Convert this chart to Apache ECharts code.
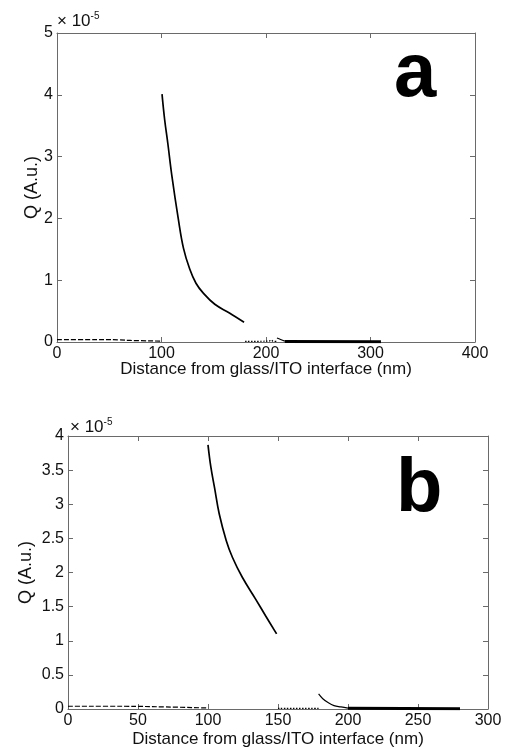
<!DOCTYPE html>
<html>
<head>
<meta charset="utf-8">
<script src="https://cdn.jsdelivr.net/npm/echarts@6/dist/echarts.min.js"></script>
<style>html,body{margin:0;padding:0;background:#fff}#c{width:509px;height:749px}</style>
</head>
<body>
<div id="c"></div>
<script>
// Values of Q are in units of 1e-5 (A.u.); distance in nm
// Panel a
const aDashed = [[0,0.04],[30,0.04],[60,0.035],[70,0.025],[100,0.015]];
const aMain = [[100.5,4.01],[103,3.6],[106,3.22],[110,2.68],[116,2.0],[121,1.52],[127,1.18],[133,0.95],[140,0.79],[151,0.61],[165,0.47],[179,0.32]];
const aDotted = [[180,0.01],[195,0.012],[203,0.015],[205,0.03],[207,0.012],[210,0.01]];
const aTail = [[210.5,0.065],[214,0.04],[218,0.015]];
const aThick = [[218,0.01],[310,0.005]];
// Panel b
const bDashed = [[0,0.04],[40,0.04],[70,0.03],[100,0.015]];
const bMain = [[100,3.87],[102,3.55],[104.7,3.24],[108,2.86],[113,2.47],[117.5,2.22],[124.5,1.93],[134,1.61],[141,1.37],[149,1.1]];
const bDotted = [[150,0.01],[180,0.01]];
const bTail = [[179,0.22],[182,0.15],[186,0.09],[190,0.05],[195,0.03],[200,0.012]];
const bThick = [[200,0.01],[280,0.005]];
const aXTicks = {min:0,max:400,interval:100};
const aYTicks = {min:0,max:5,interval:1};
const bXTicks = {min:0,max:300,interval:50};
const bYTicks = {min:0,max:4,interval:0.5};

const FONT = 'Liberation Sans';
const axisCol = '#6a6a6a';
function xAx(grid, t, pos, show){
  return {type:'value',gridIndex:grid,position:pos,min:t.min,max:t.max,interval:t.interval,
    axisLine:{show:true,onZero:false,lineStyle:{color:axisCol,width:1}},
    axisTick:{show:true,inside:true,length:5,lineStyle:{color:axisCol}},
    axisLabel:{show:show,color:'#111',fontFamily:FONT,fontSize:16,margin:4},
    splitLine:{show:false},
    name:show?'Distance from glass/ITO interface (nm)':'',nameLocation:'middle',nameGap:grid===0?19:22,
    nameMoveOverlap:false,
    nameTextStyle:{color:'#111',fontFamily:FONT,fontSize:17}};
}
function yAx(grid, t, pos, show){
  return {type:'value',gridIndex:grid,position:pos,min:t.min,max:t.max,interval:t.interval,
    axisLine:{show:true,onZero:false,lineStyle:{color:axisCol,width:1}},
    axisTick:{show:true,inside:true,length:5,lineStyle:{color:axisCol}},
    axisLabel:{show:show,color:'#111',fontFamily:FONT,fontSize:16,margin:4},
    splitLine:{show:false},
    name:show?'Q (A.u.)':'',nameLocation:'middle',nameGap:grid===0?16:33,
    nameMoveOverlap:false,
    nameTextStyle:{color:'#111',fontFamily:FONT,fontSize:18}};
}
function ser(data, xi, yi, type, width){
  return {type:'line',xAxisIndex:xi,yAxisIndex:yi,data:data,showSymbol:false,smooth:0.4,
    lineStyle:{color:'#000',width:width,type:type},silent:true,animation:false};
}
const sup = {a:{fontFamily:FONT,fontSize:17,fill:'#111'},s:{fontFamily:FONT,fontSize:10,fill:'#111',verticalAlign:'top',padding:[0,0,10,0]}};
const chart = echarts.init(document.getElementById('c'),null,{renderer:'canvas'});
chart.setOption({
  animation:false,
  grid:[{left:57,top:33,width:418,height:309},{left:68,top:436,width:420,height:275}],
  xAxis:[xAx(0,aXTicks,'bottom',true),xAx(0,aXTicks,'top',false),xAx(1,bXTicks,'bottom',true),xAx(1,bXTicks,'top',false)],
  yAxis:[yAx(0,aYTicks,'left',true),yAx(0,aYTicks,'right',false),yAx(1,bYTicks,'left',true),yAx(1,bYTicks,'right',false)],
  series:[
    ser(aDashed,0,0,[5,2],1.2), ser(aMain,0,0,'solid',1.7), ser(aDotted,0,0,[1.5,1.5],1.2), ser(aTail,0,0,'solid',1.2), ser(aThick,0,0,'solid',3),
    ser(bDashed,2,2,[5,2],1.2), ser(bMain,2,2,'solid',1.7), ser(bDotted,2,2,[1.5,1.5],1.2), ser(bTail,2,2,'solid',1.2), ser(bThick,2,2,'solid',3)
  ],
  graphic:[
    {type:'text',left:57,top:11,style:{text:'{a|× 10}{s|-5}',rich:sup}},
    {type:'text',left:70,top:417,style:{text:'{a|× 10}{s|-5}',rich:sup}},
    {type:'text',left:394,top:37,style:{text:'a',fontFamily:FONT,fontWeight:'bold',fontSize:76,fill:'#000'}},
    {type:'text',left:396,top:452,style:{text:'b',fontFamily:FONT,fontWeight:'bold',fontSize:76,fill:'#000'}}
  ]
});
</script>
</body>
</html>
